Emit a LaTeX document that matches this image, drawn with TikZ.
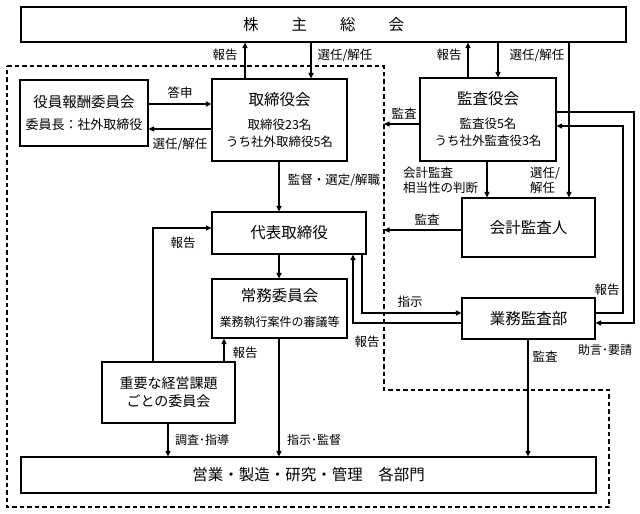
\documentclass[tikz,border=0pt]{standalone}
\usepackage{fontspec}
\setmainfont{Noto Sans CJK JP}
\usetikzlibrary{arrows.meta}
\newcommand\fsz[1]{\fontsize{#1pt}{17pt}\selectfont}
\begin{document}
\begin{tikzpicture}[x=1pt,y=-1pt,
  box/.style={draw, line width=1.1pt, inner sep=0pt, align=center, font=\fsz{12.5}},
  lab/.style={inner sep=0pt, font=\fsz{12.5}},
  arr/.style={line width=1.1pt, -{Triangle[length=5.5pt,width=5pt]}},
  bound/.style={line width=1.1pt, dash pattern=on 4.5pt off 3pt}]
\useasboundingbox (0,0) rectangle (640,514);
\fill[white] (0,0) rectangle (640,514);

% boxes
\node[box, minimum width=605pt, minimum height=35pt] (sh) at (323.5,24.5)
  {{\fsz{15.5}株\hspace{33pt}主\hspace{33pt}総\hspace{33pt}会}};
\node[box, minimum width=128pt, minimum height=66pt] (yakuin) at (84,113)
  {{\fsz{14.5}役員報酬委員会}\\[5pt]{\fsz{13}委員長：社外取締役}};
\node[box, minimum width=135pt, minimum height=82pt] (tori) at (279.5,120)
  {{\fsz{15.5}取締役会}\\[7pt]取締役23名\\うち社外取締役5名};
\node[box, minimum width=136pt, minimum height=83pt] (kansa) at (488,119.5)
  {{\fsz{15.5}監査役会}\\[7pt]監査役5名\\うち社外監査役3名};
\node[box, minimum width=154pt, minimum height=42pt] (daihyo) at (289,233)
  {{\fsz{15.5}代表取締役}};
\node[box, minimum width=133pt, minimum height=59pt] (kaikei) at (528.5,227.5)
  {{\fsz{15.5}会計監査人}};
\node[box, minimum width=135pt, minimum height=59pt] (jomu) at (279.5,308.5)
  {{\fsz{15.5}常務委員会}\\[8pt]{\fsz{12}業務執行案件の審議等}};
\node[box, minimum width=133pt, minimum height=41pt] (gyomu) at (528.5,318.5)
  {{\fsz{15.5}業務監査部}};
\node[box, minimum width=133pt, minimum height=61pt] (juyo) at (168.5,392.5)
  {{\fsz{14}重要な経営課題}\\[1pt]{\fsz{14}ごとの委員会}};
\node[box, minimum width=575pt, minimum height=36pt] (bumon) at (308.5,475)
  {{\fsz{15.5}営業・製造・研究・管理　各部門}};

% dashed boundary
\draw[bound] (7,66) -- (384,66) -- (384,390) -- (609,390) -- (609,507) -- (7,507) -- cycle;

% guide coordinates
\coordinate (v153) at (153,0);
\coordinate (v168) at (168,0);
\coordinate (v224) at (224,0);
\coordinate (v245) at (245,0);
\coordinate (v279) at (279,0);
\coordinate (v311) at (311,0);
\coordinate (v353) at (353,0);
\coordinate (v362) at (362,0);
\coordinate (v384) at (384,0);
\coordinate (v468) at (468,0);
\coordinate (v487) at (487,0);
\coordinate (v498) at (498,0);
\coordinate (v528) at (528,0);
\coordinate (v569) at (569,0);
\coordinate (v623) at (623,0);
\coordinate (v634) at (634,0);
\coordinate (h104) at (0,104);
\coordinate (h112) at (0,112);
\coordinate (h124) at (0,124);
\coordinate (h126) at (0,126);
\coordinate (h129) at (0,129);
\coordinate (h228) at (0,228);
\coordinate (h230) at (0,230);
\coordinate (h313) at (0,313);
\coordinate (h323) at (0,323);
\coordinate (mk1) at (v384 |- h124);
\coordinate (mk2) at (v384 |- h230);

% connectors
\draw[arr] (tori.north -| v245) -- (sh.south -| v245);
\draw[arr] (sh.south -| v311) -- (tori.north -| v311);
\draw[arr] (kansa.north -| v468) -- (sh.south -| v468);
\draw[arr] (sh.south -| v498) -- (kansa.north -| v498);
\draw[arr] (sh.south -| v569) -- (kaikei.north -| v569);
\draw[arr] (yakuin.east |- h104) -- (tori.west |- h104);
\draw[arr] (tori.west |- h129) -- (yakuin.east |- h129);
\draw[arr] (tori.south -| v279) -- (daihyo.north -| v279);
\draw[arr] (kansa.west |- h124) -- (mk1);
\draw[arr] (kansa.south -| v487) -- (kaikei.north -| v487);
\draw[arr] (kaikei.west |- h230) -- (mk2);
\draw[arr] (gyomu.east |- h313) -| (v623 |- h126) -- (kansa.east |- h126);
\draw[arr] (kansa.east |- h112) -| (v634 |- h323) -- (gyomu.east |- h323);
\draw[arr] (daihyo.south -| v362) |- (gyomu.west |- h313);
\draw[arr] (gyomu.west |- h323) -| (daihyo.south -| v353);
\draw[arr] (daihyo.south -| v279) -- (jomu.north -| v279);
\draw[arr] (juyo.north -| v153) |- (daihyo.west |- h228);
\draw[arr] (juyo.north -| v224) -- (jomu.south -| v224);
\draw[arr] (jomu.south -| v279) -- (bumon.north -| v279);
\draw[arr] (juyo.south -| v168) -- (bumon.north -| v168);
\draw[arr] (gyomu.south -| v528) -- (bumon.north -| v528);

% labels
\node[lab] (l1) at (225,55) {報告};
\node[lab] (l2) at (345,55) {選任/解任};
\node[lab] (l3) at (449,55) {報告};
\node[lab] (l4) at (537,55) {選任/解任};
\node[lab] (l5) at (180,93) {答申};
\node[lab] (l6) at (180,144) {選任/解任};
\node[lab] (l7) at (334,180) {監督・選定/解職};
\node[lab] (l8) at (404,114) {監査};
\node[lab, anchor=west, align=left] (l9) at (403,180.5) {会計監査\\[-2pt]相当性の判断};
\node[lab, anchor=west, align=left] (l10) at (530,180.5) {選任/\\[-2pt]解任};
\node[lab] (l11) at (427,220) {監査};
\node[lab] (l12) at (607,290) {報告};
\node[lab] (l13) at (410,302) {指示};
\node[lab] (l14) at (367,342) {報告};
\node[lab, font=\fsz{12}] (l15) at (605,350) {助言･要請};
\node[lab] (l16) at (545,357) {監査};
\node[lab] (l17) at (183,243) {報告};
\node[lab] (l18) at (245,353) {報告};
\node[lab, font=\fsz{12}] (l19) at (202,440) {調査･指導};
\node[lab, font=\fsz{12}] (l20) at (314,440) {指示･監督};
\end{tikzpicture}
\end{document}
